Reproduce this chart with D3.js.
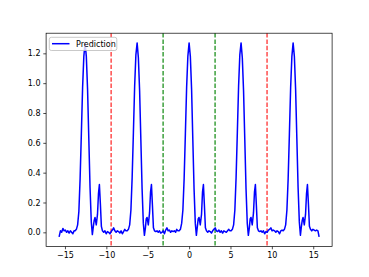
<!DOCTYPE html>
<html>
<head>
<meta charset="utf-8">
<script src="https://cdn.jsdelivr.net/npm/d3@7"></script>
<style>
  body { margin: 0; background: #fff; }
  text { font-family: "DejaVu Sans", sans-serif; }
</style>
</head>
<body>
<svg id="chart" width="369" height="277"></svg>
<script>
// prediction curve (x, y)
const xs = [
  -15.71, -15.55, -15.40, -15.25, -15.10, -14.95, -14.80, -14.65, -14.50, -14.35, -14.20, -14.05, -13.90,
  -13.77, -13.62, -13.47, -13.32, -13.17, -13.02, -12.87, -12.72, -12.57, -12.42, -12.27, -12.12, -11.97, -11.82, -11.69, -11.57, -11.47, -11.37, -11.22, -11.07, -10.95, -10.84, -10.72, -10.60, -10.47,
  -10.32, -10.17, -10.02, -9.87, -9.72, -9.57, -9.42, -9.27, -9.12, -8.97, -8.82, -8.67, -8.52, -8.37, -8.22, -8.07, -7.92, -7.77, -7.63,
  -7.48, -7.33, -7.18, -7.03, -6.88, -6.73, -6.58, -6.43, -6.28, -6.13, -5.98, -5.83, -5.68, -5.53, -5.40, -5.28, -5.18, -5.08, -4.93, -4.78, -4.66, -4.55, -4.43, -4.31, -4.18,
  -4.03, -3.88, -3.73, -3.58, -3.43, -3.28, -3.13, -2.98, -2.83, -2.68, -2.53, -2.38, -2.23, -2.08, -1.93, -1.78, -1.63, -1.49, -1.35,
  -1.20, -1.05, -0.90, -0.75, -0.60, -0.45, -0.30, -0.15, 0.00, 0.15, 0.30, 0.45, 0.60, 0.75, 0.88, 1.00, 1.10, 1.20, 1.35, 1.50, 1.62, 1.73, 1.85, 1.97, 2.10,
  2.25, 2.40, 2.55, 2.70, 2.85, 3.00, 3.15, 3.30, 3.45, 3.60, 3.75, 3.90, 4.05, 4.20, 4.35, 4.50, 4.65, 4.80, 4.94,
  5.08, 5.23, 5.38, 5.53, 5.68, 5.83, 5.98, 6.13, 6.28, 6.43, 6.58, 6.73, 6.88, 7.03, 7.16, 7.28, 7.38, 7.48, 7.63, 7.78, 7.90, 8.01, 8.13, 8.25, 8.38,
  8.53, 8.68, 8.83, 8.98, 9.13, 9.28, 9.43, 9.58, 9.73, 9.88, 10.03, 10.18, 10.33, 10.48, 10.63, 10.78, 10.93, 11.08, 11.23,
  11.37, 11.52, 11.67, 11.82, 11.97, 12.12, 12.27, 12.42, 12.57, 12.72, 12.87, 13.02, 13.17, 13.32, 13.45, 13.57, 13.67, 13.77, 13.92, 14.07, 14.19, 14.30, 14.42, 14.54, 14.67,
  14.82, 14.97, 15.12, 15.27, 15.42, 15.57, 15.71
];
const ys = [
  -0.03, 0.01, 0.00, 0.026, 0.01, 0.015, 0.00, 0.01, -0.005, 0.01, 0.00, -0.01, 0.01,
  0.01, 0.02, 0.05, 0.14, 0.36, 0.66, 0.97, 1.18, 1.27, 1.18, 0.96, 0.63, 0.30, 0.07, -0.015, 0.04, 0.08, 0.10, 0.05, 0.12, 0.26, 0.32, 0.19, 0.04, 0.01,
  0.00, 0.01, -0.01, 0.005, 0.00, -0.01, 0.005, 0.015, 0.03, 0.01, 0.00, 0.01, 0.005, -0.005, 0.01, -0.01, 0.005, 0.02, 0.01,
  0.01, 0.02, 0.05, 0.15, 0.37, 0.67, 0.98, 1.19, 1.27, 1.17, 0.95, 0.62, 0.29, 0.06, -0.02, 0.03, 0.09, 0.10, 0.05, 0.13, 0.27, 0.32, 0.18, 0.03, 0.01,
  0.005, 0.01, 0.00, 0.01, -0.005, 0.00, 0.01, -0.01, 0.015, 0.03, 0.01, 0.015, 0.00, 0.01, 0.005, 0.01, 0.00, 0.02, 0.01,
  0.01, 0.02, 0.06, 0.15, 0.36, 0.66, 0.97, 1.18, 1.27, 1.18, 0.96, 0.62, 0.29, 0.06, -0.02, 0.04, 0.09, 0.10, 0.05, 0.12, 0.27, 0.32, 0.18, 0.03, 0.01,
  0.00, 0.01, 0.005, -0.005, 0.01, 0.02, 0.03, 0.01, 0.005, 0.015, 0.00, 0.01, -0.005, 0.01, 0.005, 0.00, 0.01, 0.02, 0.01,
  0.01, 0.02, 0.05, 0.15, 0.37, 0.67, 0.98, 1.19, 1.27, 1.17, 0.95, 0.62, 0.29, 0.06, -0.02, 0.03, 0.09, 0.10, 0.05, 0.13, 0.27, 0.32, 0.18, 0.03, 0.01,
  0.005, 0.01, 0.00, 0.01, -0.01, 0.005, 0.00, 0.015, 0.02, 0.03, 0.01, 0.015, 0.01, 0.00, 0.01, 0.005, -0.01, 0.01, 0.015,
  0.01, 0.02, 0.05, 0.15, 0.36, 0.66, 0.97, 1.18, 1.27, 1.18, 0.96, 0.63, 0.30, 0.07, -0.02, 0.04, 0.08, 0.10, 0.05, 0.12, 0.26, 0.32, 0.19, 0.04, 0.02,
  0.01, 0.02, 0.015, 0.01, 0.015, 0.01, -0.03
];
const xTicks = [-15, -10, -5, 0, 5, 10, 15];
const yTicks = [0.0, 0.2, 0.4, 0.6, 0.8, 1.0, 1.2];
const redLines = [-9.42, 9.42];
const greenLines = [-3.14, 3.14];
const seriesName = "Prediction";

const svg = d3.select('#chart');
const plotL = 46.1, plotR = 332.1, plotT = 33.2, plotB = 246.5;

const x = d3.scaleLinear().domain([-17.28, 17.28]).range([plotL, plotR]);
const y = d3.scaleLinear().domain([-0.095, 1.335]).range([plotB, plotT]);

svg.append('rect').attr('width', 369).attr('height', 277).attr('fill', '#fff');

// vertical marker lines
const vlines = redLines.map(v => ({v: v, c: 'rgb(255,77,77)'}))
  .concat(greenLines.map(v => ({v: v, c: 'rgb(60,160,60)'})));
svg.append('g').selectAll('line')
  .data(vlines)
  .enter().append('line')
  .attr('x1', d => x(d.v)).attr('x2', d => x(d.v))
  .attr('y1', plotT).attr('y2', plotB)
  .attr('stroke', d => d.c)
  .attr('stroke-width', 1.5)
  .attr('stroke-dasharray', '4.4,1.9');

const pts = xs.map((v, i) => [v, ys[i]]);
svg.append('path')
  .datum(pts)
  .attr('fill', 'none')
  .attr('stroke', '#0000ff')
  .attr('stroke-width', 1.5)
  .attr('stroke-linejoin', 'round')
  .attr('d', d3.line().x(d => x(d[0])).y(d => y(d[1])));

// axes
const xAxis = svg.append('g')
  .attr('transform', `translate(0,${plotB})`)
  .call(d3.axisBottom(x).tickValues(xTicks).tickSize(2.8).tickPadding(2.8).tickSizeOuter(0));
const yAxis = svg.append('g')
  .attr('transform', `translate(${plotL},0)`)
  .call(d3.axisLeft(y).tickValues(yTicks).tickFormat(d3.format('.1f')).tickSize(2.8).tickPadding(2.8).tickSizeOuter(0));
[xAxis, yAxis].forEach(g => {
  g.select('.domain').remove();
  g.selectAll('line').attr('stroke', '#000').attr('stroke-width', 0.7);
  g.selectAll('text').attr('font-size', 8).attr('fill', '#000').attr('font-family', 'DejaVu Sans');
});

svg.append('rect')
  .attr('x', plotL).attr('y', plotT)
  .attr('width', plotR - plotL).attr('height', plotB - plotT)
  .attr('fill', 'none')
  .attr('stroke', '#000')
  .attr('stroke-width', 0.7);

// legend
const lg = svg.append('g');
lg.append('rect')
  .attr('x', 49.3).attr('y', 37.3).attr('width', 67.5).attr('height', 13.2)
  .attr('rx', 2).attr('fill', 'rgba(255,255,255,0.8)')
  .attr('stroke', '#bbb').attr('stroke-width', 0.8);
lg.append('line')
  .attr('x1', 52).attr('x2', 69.5).attr('y1', 43.7).attr('y2', 43.7)
  .attr('stroke', '#0000ff').attr('stroke-width', 1.5);
lg.append('text')
  .attr('x', 76).attr('y', 46.7)
  .attr('font-size', 8).attr('fill', '#000')
  .text(seriesName);
</script>
</body>
</html>
